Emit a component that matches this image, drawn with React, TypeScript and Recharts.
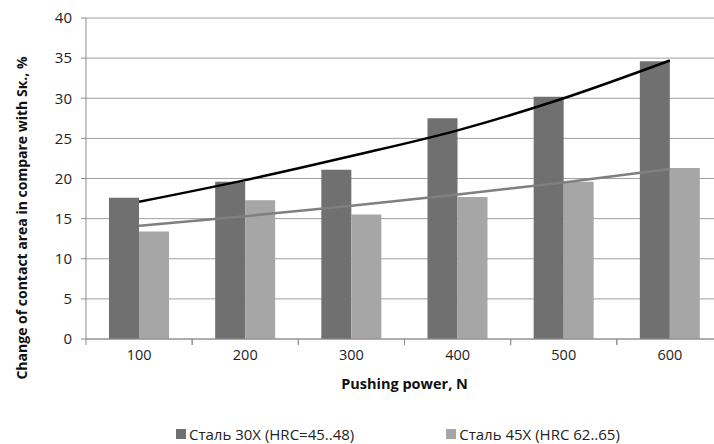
import React from "react";
import {
  ComposedChart,
  Bar,
  Line,
  XAxis,
  YAxis,
  CartesianGrid,
  Legend,
} from "recharts";

const categories = ["100", "200", "300", "400", "500", "600"];
const steel30 = [17.6, 19.6, 21.1, 27.5, 30.2, 34.6];
const steel45 = [13.4, 17.3, 15.5, 17.7, 19.6, 21.3];
const trend30 = [17.1, 19.8, 22.8, 26.0, 30.0, 34.7];
const trend45 = [14.1, 15.3, 16.6, 18.0, 19.5, 21.2];
const yTicks = [0, 5, 10, 15, 20, 25, 30, 35, 40];

const data = categories.map((c, i) => ({
  name: c,
  s30: steel30[i],
  s45: steel45[i],
  t30: trend30[i],
  t45: trend45[i],
}));

const FONT = "'Open Sans', sans-serif";
const DARK = "#707070";
const LIGHT = "#a6a6a6";
const AXIS = "#8c8c8c";

function XTick(props: any) {
  const { x, y, payload } = props;
  const half = payload.offset ?? 53;
  return (
    <g>
      <line x1={x - half} y1={y - 8} x2={x - half} y2={y - 2} stroke={AXIS} />
      <line x1={x + half} y1={y - 8} x2={x + half} y2={y - 2} stroke={AXIS} />
      <text
        x={x}
        y={y + 13}
        textAnchor="middle"
        fontSize={14.5}
        fontFamily={FONT}
        fill="#222"
      >
        {payload.value}
      </text>
    </g>
  );
}

function LegendBox() {
  const items = [
    { label: "Сталь 30X (HRC=45..48)", color: DARK },
    { label: "Сталь 45X (HRC 62..65)", color: LIGHT },
  ];
  return (
    <div
      style={{
        display: "flex",
        gap: 92,
        paddingLeft: 176,
        paddingTop: 25,
        fontFamily: FONT,
        fontSize: 15,
        color: "#222",
      }}
    >
      {items.map((it) => (
        <div key={it.label} style={{ display: "flex", alignItems: "center" }}>
          <span
            style={{
              display: "inline-block",
              width: 10,
              height: 10,
              background: it.color,
              marginRight: 3,
            }}
          />
          <span>{it.label}</span>
        </div>
      ))}
    </div>
  );
}

export default function App() {
  return (
    <div
      style={{
        position: "absolute",
        left: 0,
        top: 0,
        width: 714,
        height: 444,
        overflow: "hidden",
        background: "#fff",
      }}
    >
      <ComposedChart
        width={730}
        height={444}
        data={data}
        margin={{ top: 18, right: 7, left: 0, bottom: 0 }}
        barSize={30}
        barGap={0}
      >
        <CartesianGrid vertical={false} stroke="#a0a0a0" strokeWidth={1} />
        <XAxis
          dataKey="name"
          height={60}
          tickLine={false}
          axisLine={{ stroke: AXIS }}
          tick={<XTick />}
          interval={0}
          label={{
            value: "Pushing power, N",
            position: "insideBottom",
            offset: 10,
            style: {
              fontFamily: FONT,
              fontSize: 14.5,
              fontWeight: 700,
              fill: "#111",
            },
          }}
        />
        <YAxis
          width={86}
          domain={[0, 40]}
          ticks={yTicks}
          interval={0}
          tickSize={5}
          tickMargin={9}
          tickLine={{ stroke: AXIS }}
          axisLine={{ stroke: AXIS }}
          tick={{ fontSize: 15, fontFamily: FONT, fill: "#222" }}
          label={{
            content: () => (
              <text
                x={27}
                y={218}
                transform="rotate(-90, 27, 218)"
                textAnchor="middle"
                fontFamily={FONT}
                fontSize={14}
                fontWeight={700}
                fill="#111"
              >
                Change of contact area in compare with Sк., %
              </text>
            ),
          }}
        />
        <Legend
          verticalAlign="bottom"
          height={45}
          content={() => <LegendBox />}
        />
        <Bar dataKey="s30" fill={DARK} isAnimationActive={false} />
        <Bar dataKey="s45" fill={LIGHT} isAnimationActive={false} />
        <Line
          type="monotone"
          dataKey="t30"
          stroke="#000"
          strokeWidth={2.5}
          dot={false}
          legendType="none"
          isAnimationActive={false}
        />
        <Line
          type="monotone"
          dataKey="t45"
          stroke="#7f7f7f"
          strokeWidth={2.5}
          dot={false}
          legendType="none"
          isAnimationActive={false}
        />
      </ComposedChart>
    </div>
  );
}
